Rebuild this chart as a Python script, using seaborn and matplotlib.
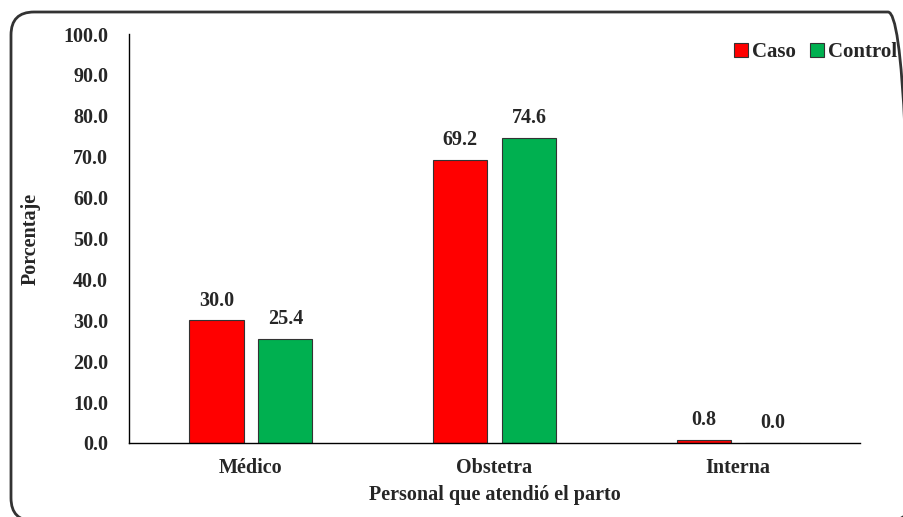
import matplotlib
matplotlib.use("Agg")
import matplotlib.pyplot as plt
from matplotlib.patches import FancyBboxPatch, Patch
import seaborn as sns
import pandas as pd

categorias = ["Médico", "Obstetra", "Interna"]
caso = [30.0, 69.2, 0.8]
control = [25.4, 74.6, 0.0]
grupos = ["Caso", "Control"]
colores = {"Caso": "#FF0000", "Control": "#00B050"}
yticks = [0, 10, 20, 30, 40, 50, 60, 70, 80, 90, 100]

df = pd.DataFrame({
    "Personal": categorias * 2,
    "Grupo": ["Caso"] * 3 + ["Control"] * 3,
    "Porcentaje": caso + control,
})

sns.set_style("white")
plt.rcParams["font.family"] = ["Liberation Serif", "DejaVu Serif"]
plt.rcParams["font.weight"] = "bold"
FS = 14.5

fig = plt.figure(figsize=(9.04, 5.17), dpi=100)
ax = fig.add_axes([129 / 904, 1 - 443 / 517, (860 - 129) / 904, (443 - 34) / 517])

sns.barplot(data=df, x="Personal", y="Porcentaje", hue="Grupo", order=categorias,
            hue_order=grupos, palette=colores, saturation=1, width=0.565, gap=0.21,
            edgecolor="#333333", linewidth=0.8, ax=ax, legend=False)

for cont in ax.containers:
    ax.bar_label(cont, labels=[f"{v:.1f}" for v in cont.datavalues], padding=7,
                 fontsize=FS, fontweight="bold")

ax.set_xlim(-0.5, 2.5)
ax.set_ylim(0, 100)
ax.set_yticks(yticks)
ax.set_yticklabels([f"{v:.1f}" for v in yticks], fontsize=FS, fontweight="bold")
ax.tick_params(axis="y", length=0, pad=15)
ax.tick_params(axis="x", length=0, pad=11, labelsize=FS)
for lab in ax.get_xticklabels():
    lab.set_fontweight("bold")

for side in ["top", "right"]:
    ax.spines[side].set_visible(False)
for side in ["left", "bottom"]:
    ax.spines[side].set_color("black")
    ax.spines[side].set_linewidth(1.0)

ax.set_xlabel("Personal que atendió el parto", fontsize=FS, fontweight="bold", labelpad=5)
ax.set_ylabel("Porcentaje", fontsize=FS, fontweight="bold")
ax.yaxis.set_label_coords((41 - 129) / 731, 0.5)

handles = [Patch(facecolor=colores[g], edgecolor="#333333", linewidth=0.8) for g in grupos]
fig.legend(handles, grupos, loc="center right", bbox_to_anchor=(1.004, 1 - 52 / 517),
           ncol=2, frameon=False, handlelength=0.65, handleheight=0.65,
           handletextpad=0.2, columnspacing=0.7, borderaxespad=0.1,
           prop={"weight": "bold", "size": 15})

# rounded outer frame, drawn in inches so the corners stay circular
frame = FancyBboxPatch((0.11, -0.04), 9.0, 5.09,
                       boxstyle="round,pad=0,rounding_size=0.23",
                       transform=fig.dpi_scale_trans, facecolor="none",
                       edgecolor="#333333", linewidth=2.0, clip_on=False)
fig.add_artist(frame)

fig.savefig("out.png", dpi=100)
